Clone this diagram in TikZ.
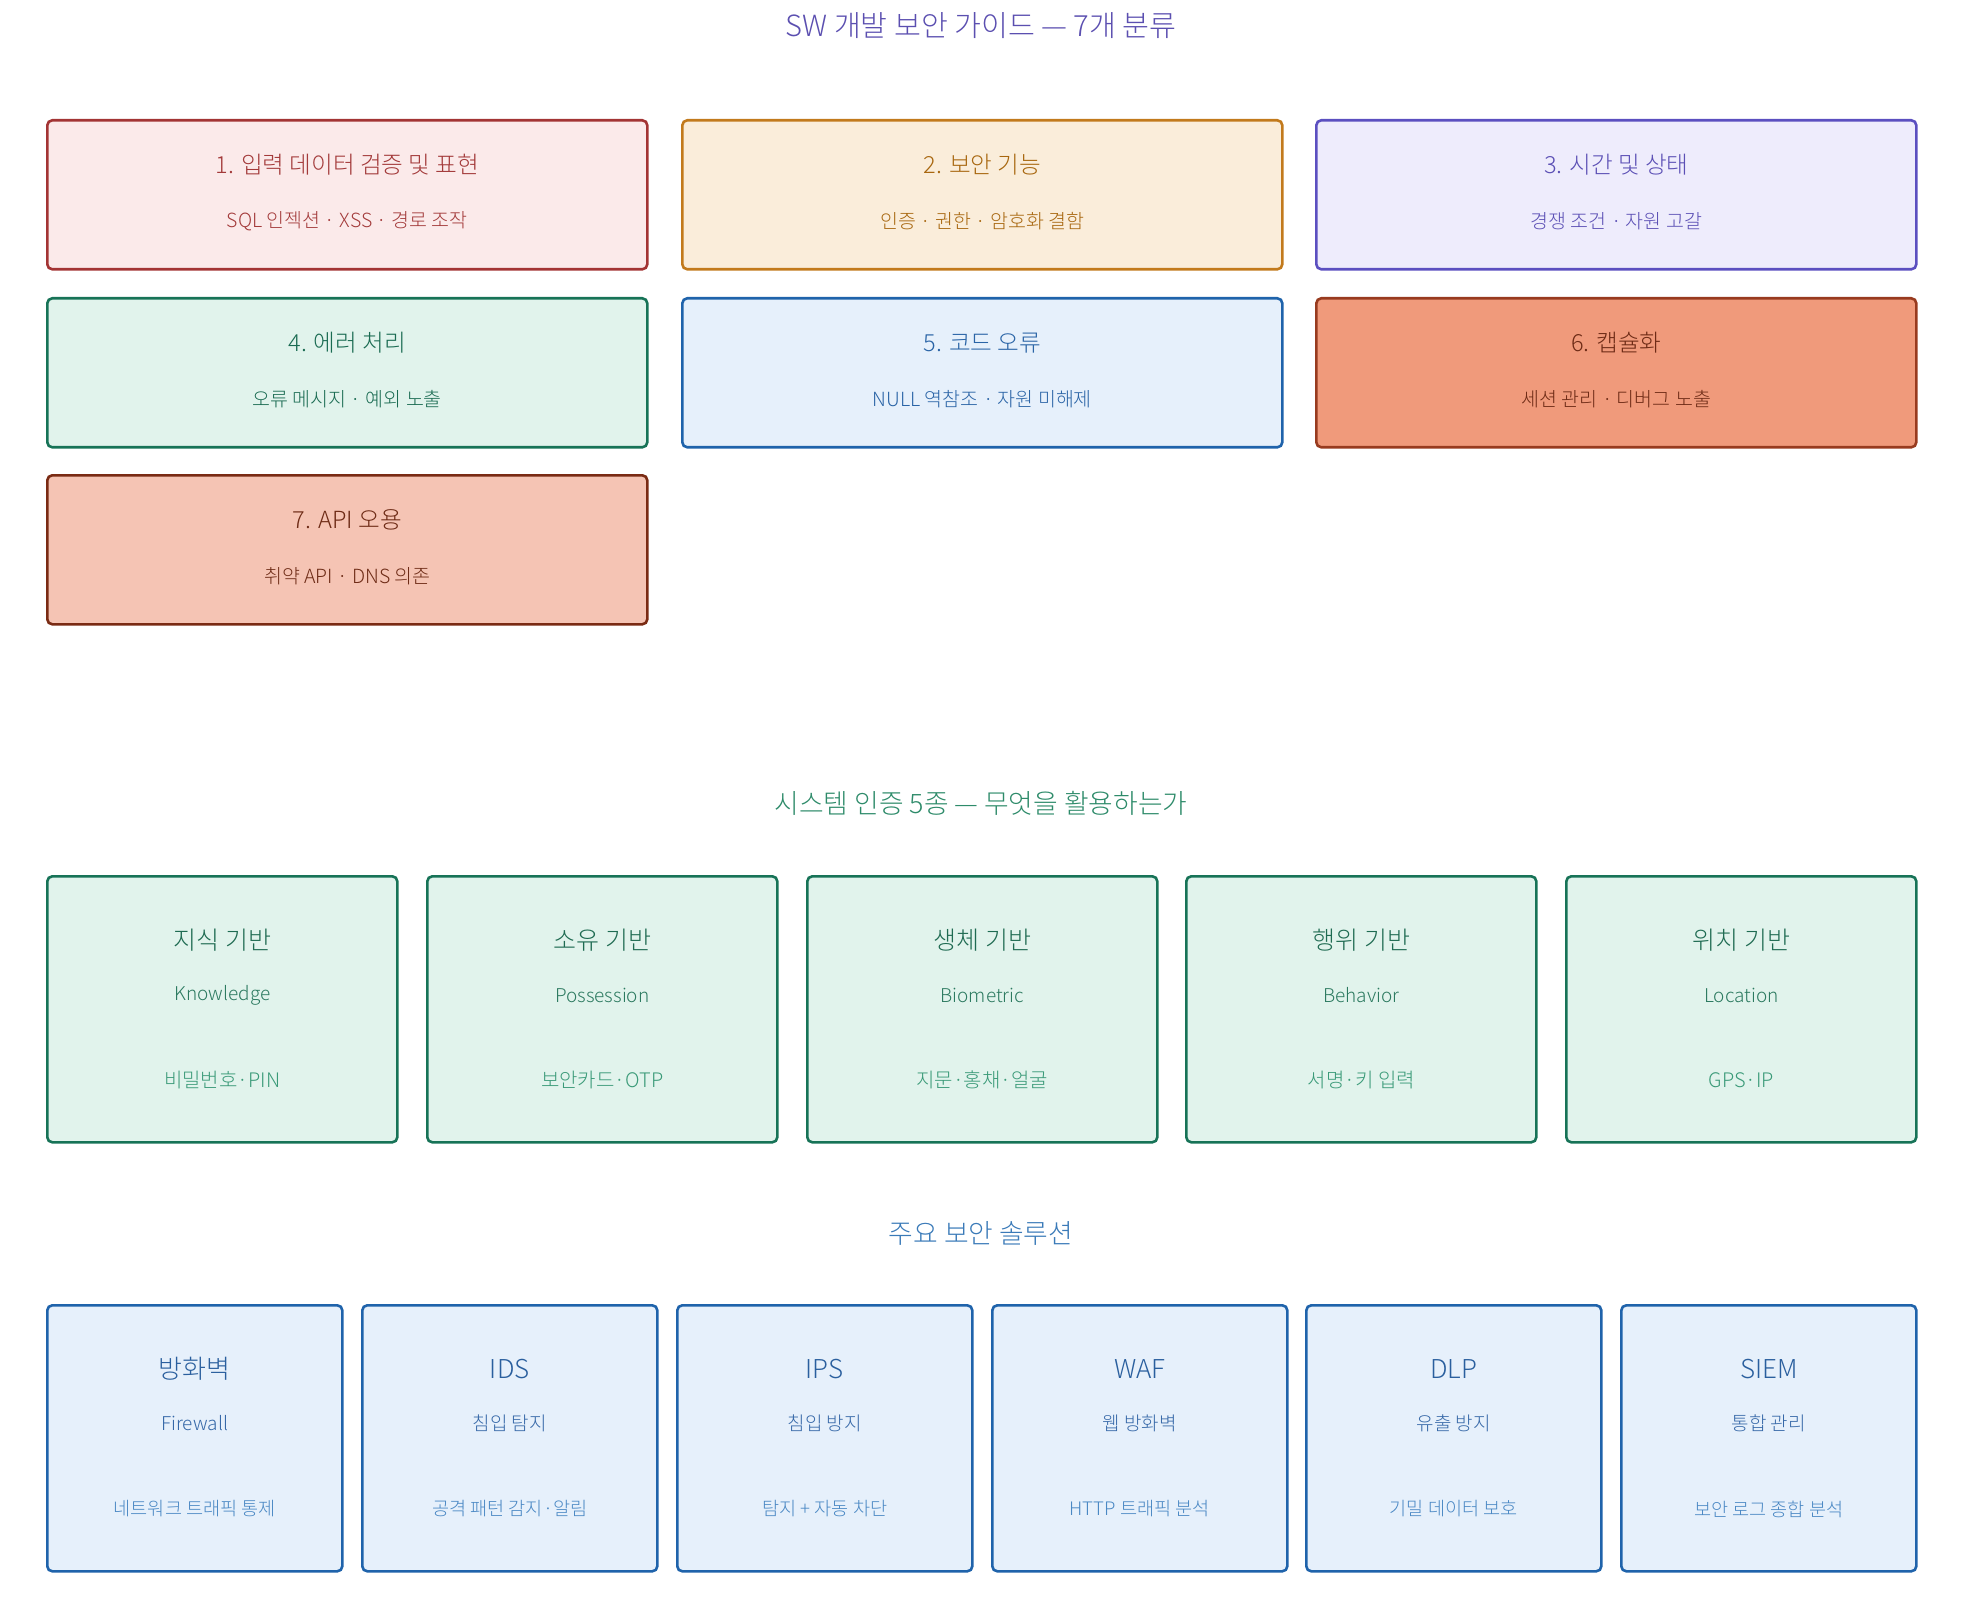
\documentclass[tikz,border=0pt]{standalone}
\usepackage{fontspec}
\setmainfont{Noto Sans CJK KR Light}
\usetikzlibrary{calc}
\definecolor{s1}{HTML}{A33434}\definecolor{f1}{HTML}{FBEAEA}\definecolor{t1}{HTML}{A33A3A}
\definecolor{s2}{HTML}{C27A1C}\definecolor{f2}{HTML}{FAEDDA}\definecolor{t2}{HTML}{A8670F}
\definecolor{s3}{HTML}{5B4FC0}\definecolor{f3}{HTML}{EEECFC}\definecolor{t3}{HTML}{5B4FB5}
\definecolor{s4}{HTML}{177357}\definecolor{f4}{HTML}{E1F3EC}\definecolor{t4}{HTML}{1A6B52}
\definecolor{s5}{HTML}{1F63AB}\definecolor{f5}{HTML}{E6F0FB}\definecolor{t5}{HTML}{2A64A6}
\definecolor{s6}{HTML}{983B1F}\definecolor{f6}{HTML}{F09A7B}\definecolor{t6}{HTML}{6E2B16}
\definecolor{s7}{HTML}{7A2B14}\definecolor{f7}{HTML}{F5C4B4}\definecolor{t7}{HTML}{6E2B16}
\definecolor{auS}{HTML}{177357}\definecolor{auF}{HTML}{E1F3EC}
\definecolor{auT}{HTML}{1F6B52}\definecolor{auE}{HTML}{2C7A60}\definecolor{auB}{HTML}{3A9A78}
\definecolor{soS}{HTML}{1F63AB}\definecolor{soF}{HTML}{E6F0FB}
\definecolor{soT}{HTML}{2A5F9E}\definecolor{soE}{HTML}{3668A8}\definecolor{soB}{HTML}{4A88C4}
\definecolor{hA}{HTML}{5B4FB0}\definecolor{hB}{HTML}{2E8B6A}\definecolor{hC}{HTML}{3A7AB8}
\tikzset{
  card/.style={line width=1.3pt, rounded corners=2.5pt, anchor=north west, inner sep=0pt},
  rowcard/.style={card, minimum width=300pt, minimum height=74.5pt},
  authcard/.style={card, draw=auS, fill=auF, minimum width=175pt, minimum height=133pt},
  solcard/.style={card, draw=soS, fill=soF, minimum width=147.5pt, minimum height=133pt},
  headA/.style={inner sep=0pt, font=\fontsize{14.6pt}{17pt}\selectfont},
  head/.style={inner sep=0pt, font=\fontsize{13.4pt}{16pt}\selectfont},
  rtitle/.style={inner sep=0pt, font=\fontsize{11.8pt}{14pt}\selectfont},
  rsub/.style={inner sep=0pt, font=\fontsize{9.75pt}{11pt}\selectfont},
  atitle/.style={inner sep=0pt, font=\fontsize{12.5pt}{15pt}\selectfont},
  stitle/.style={inner sep=0pt, font=\fontsize{13pt}{15pt}\selectfont},
  bsub/.style={inner sep=0pt, font=\fontsize{9.5pt}{11pt}\selectfont},
  abot/.style={inner sep=0pt, font=\fontsize{10pt}{12pt}\selectfont},
  bbot/.style={inner sep=0pt, font=\fontsize{9.3pt}{11pt}\selectfont},
}
\begin{document}
\begin{tikzpicture}[x=0.5pt,y=-0.5pt]
\useasboundingbox (0,0) rectangle (1962,1609);
% ---------- section 1 ----------
\node[headA, text=hA] (h1) at (981,26) {SW 개발 보안 가이드 — 7개 분류};
\node[rowcard, draw=s1, fill=f1] (b1) at (46,119) {};
\node[rowcard, draw=s2, fill=f2] (b2) at (681,119) {};
\node[rowcard, draw=s3, fill=f3] (b3) at (1315,119) {};
\node[rowcard, draw=s4, fill=f4] (b4) at (46,297) {};
\node[rowcard, draw=s5, fill=f5] (b5) at (681,297) {};
\node[rowcard, draw=s6, fill=f6] (b6) at (1315,297) {};
\node[rowcard, draw=s7, fill=f7] (b7) at (46,474) {};
\foreach \i/\ti/\su in {
  1/{1. 입력 데이터 검증 및 표현}/{SQL 인젝션 · XSS · 경로 조작},
  2/{2. 보안 기능}/{인증 · 권한 · 암호화 결함},
  3/{3. 시간 및 상태}/{경쟁 조건 · 자원 고갈},
  4/{4. 에러 처리}/{오류 메시지 · 예외 노출},
  5/{5. 코드 오류}/{NULL 역참조 · 자원 미해제},
  6/{6. 캡슐화}/{세션 관리 · 디버그 노출},
  7/{7. API 오용}/{취약 API · DNS 의존}}{
  \node[rtitle, text=t\i] (bt\i) at ($(b\i.north)+(0,46)$) {\ti};
  \node[rsub, text=t\i] (bs\i) at ($(b\i.north)+(0,102)$) {\su};
}
% ---------- section 2 ----------
\node[head, text=hB] (h2) at (981,803) {시스템 인증 5종 — 무엇을 활용하는가};
\foreach \i/\xx/\ti/\en/\bo in {
  1/46/{지식 기반}/{Knowledge}/{비밀번호·PIN},
  2/426/{소유 기반}/{Possession}/{보안카드·OTP},
  3/806/{생체 기반}/{Biometric}/{지문·홍채·얼굴},
  4/1185/{행위 기반}/{Behavior}/{서명·키 입력},
  5/1565/{위치 기반}/{Location}/{GPS·IP}}{
  \node[authcard] (a\i) at (\xx,875) {};
  \node[atitle, text=auT] (at\i) at ($(a\i.north)+(0,65)$) {\ti};
  \node[bsub, text=auE] (ae\i) at ($(a\i.north)+(0,120)$) {\en};
  \node[abot, text=auB] (ab\i) at ($(a\i.north)+(0,205)$) {\bo};
}
% ---------- section 3 ----------
\node[head, text=hC] (h3) at (981,1233) {주요 보안 솔루션};
\foreach \i/\xx/\ti/\en/\bo in {
  1/46/{방화벽}/{Firewall}/{네트워크 트래픽 통제},
  2/361/{IDS}/{침입 탐지}/{공격 패턴 감지·알림},
  3/676/{IPS}/{침입 방지}/{탐지 + 자동 차단},
  4/991/{WAF}/{웹 방화벽}/{HTTP 트래픽 분석},
  5/1305/{DLP}/{유출 방지}/{기밀 데이터 보호},
  6/1620/{SIEM}/{통합 관리}/{보안 로그 종합 분석}}{
  \node[solcard] (s\i) at (\xx,1304) {};
  \node[stitle, text=soT] (st\i) at ($(s\i.north)+(0,65)$) {\ti};
  \node[bsub, text=soE] (se\i) at ($(s\i.north)+(0,119)$) {\en};
  \node[bbot, text=soB] (sb\i) at ($(s\i.north)+(0,205)$) {\bo};
}
\end{tikzpicture}
\end{document}
